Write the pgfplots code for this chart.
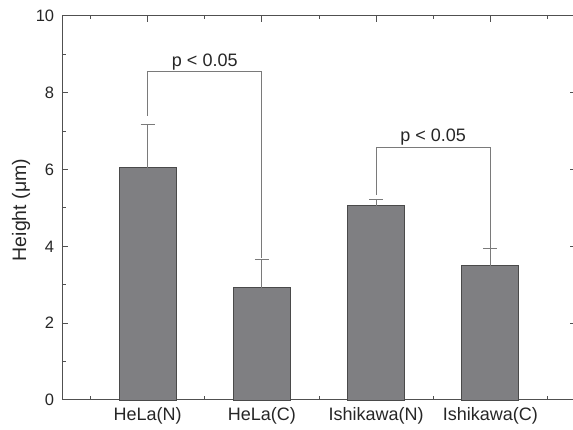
\documentclass[border=0pt]{standalone}
\usepackage{fontspec}
\setmainfont{Liberation Sans}
\usepackage{pgfplots}
\pgfplotsset{compat=1.18}
\definecolor{barfill}{HTML}{7F7F82}
\definecolor{baredge}{HTML}{4A4A4A}
\definecolor{axgray}{HTML}{505050}
\definecolor{lngray}{HTML}{7A7A7A}
\begin{document}
\fontsize{17}{20}\selectfont
\begin{tikzpicture}[x=1pt,y=1pt]
\begin{axis}[
  at={(62pt,30pt)}, anchor=south west,
  scale only axis, width=514pt, height=384pt,
  xmin=-0.75, xmax=3.75, ymin=0, ymax=10,
  xtick={0,1,2,3},
  xticklabels={HeLa(N),HeLa(C),Ishikawa(N),Ishikawa(C)},
  minor xtick={-0.5,0.5,1.5,2.5,3.5},
  ytick={0,2,4,6,8,10},
  minor ytick={1,3,5,7,9},
  tick align=inside,
  major tick length=6pt, minor tick length=3.5pt,
  axis line style={axgray, line width=1pt},
  every tick/.style={axgray, line width=1pt},
  tick label style={text=black!85},
  xticklabel style={font=\fontsize{18}{21}\selectfont, yshift=-2pt},
  yticklabel style={font=\fontsize{16.5}{20}\selectfont, xshift=-2pt},
  /pgf/number format/assume math mode=true,
  ylabel={Height (μm)},
  every axis y label/.style={at={(ticklabel cs:0.5)}, rotate=90, anchor=center,
     font=\fontsize{19.5}{22}\selectfont, text=black!85, yshift=9pt, xshift=-2pt},
  clip=false,
]
\addplot[ybar, bar width=57pt, fill=barfill, draw=baredge, line width=0.8pt,
  error bars/.cd, y dir=plus, y explicit,
  error bar style={lngray, line width=1.1pt},
  error mark options={rotate=90, mark size=7pt, lngray, line width=1.1pt}]
  coordinates {
    (0,6.05) +- (0,1.12)
    (1,2.92) +- (0,0.75)
    (2,5.06) +- (0,0.17)
    (3,3.50) +- (0,0.44)
  };
% significance brackets
\addplot[lngray, line width=1.1pt, mark=none] coordinates {(0,7.40) (0,8.55) (1,8.55) (1,3.70)};
\addplot[lngray, line width=1.1pt, mark=none] coordinates {(2,5.35) (2,6.57) (3,6.57) (3,3.96)};
\node[font=\fontsize{18}{21}\selectfont, text=black!85, anchor=base] at (axis cs:0.5,8.68) {p < 0.05};
\node[font=\fontsize{18}{21}\selectfont, text=black!85, anchor=base] at (axis cs:2.5,6.72) {p < 0.05};
\end{axis}
\pgfresetboundingbox
\path[use as bounding box] (0,0) rectangle (573,430);
\end{tikzpicture}
\end{document}
